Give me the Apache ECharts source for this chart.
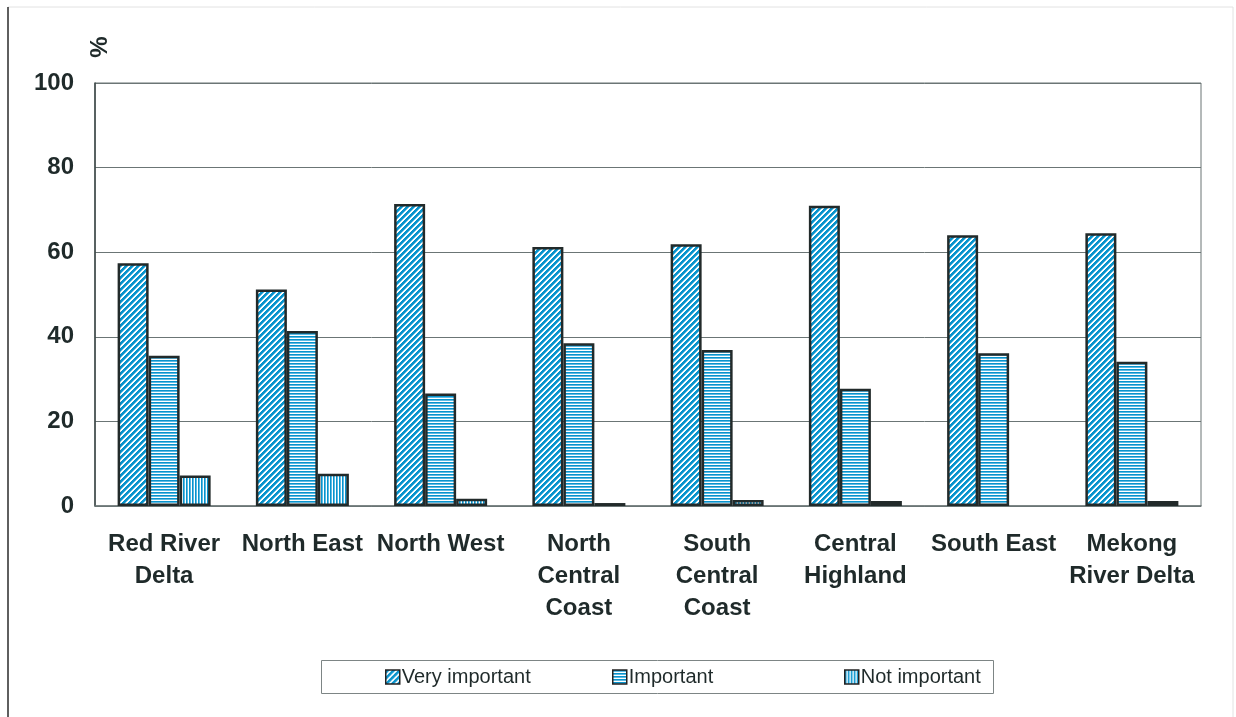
<!DOCTYPE html>
<html>
<head>
<meta charset="utf-8">
<script src="https://cdn.jsdelivr.net/npm/echarts@6/dist/echarts.min.js"></script>
<style>
  html, body { margin: 0; padding: 0; background: #ffffff; }
  #chart { width: 1236px; height: 717px; }
</style>
</head>
<body>
<div id="chart"></div>
<script>
// Regions and shares (%) of each importance rating
const regions = ['Red River\nDelta', 'North East', 'North West', 'North\nCentral\nCoast',
  'South\nCentral\nCoast', 'Central\nHighland', 'South East', 'Mekong\nRiver Delta'];
const veryImportant = [57.4, 51.2, 71.4, 61.2, 61.9, 71.0, 64.0, 64.5];
const important     = [35.5, 41.4, 26.6, 38.5, 36.9, 27.7, 36.1, 34.1];
const notImportant  = [7.2, 7.6, 1.7, 0.7, 1.4, 1.2, null, 1.2];
const seriesNames = ['Very important', 'Important', 'Not important'];
const yTicks = { min: 0, max: 100, step: 20 };

const BLUE = '#0893cc';
const LIGHT = '#5dbbe4';

// Hatched fills drawn into small tiles
function tile(w, h, painter) {
  const c = document.createElement('canvas');
  c.width = w; c.height = h;
  const ctx = c.getContext('2d');
  ctx.fillStyle = '#ffffff';
  ctx.fillRect(0, 0, w, h);
  painter(ctx);
  return c;
}
const diagonal = tile(6, 6, ctx => {
  for (let x = 0; x < 6; x++) for (let y = 0; y < 6; y++) {
    const k = (x + y) % 6;
    if (k < 3) { ctx.fillStyle = BLUE; ctx.fillRect(x, y, 1, 1); }
    else if (k === 3) { ctx.fillStyle = LIGHT; ctx.fillRect(x, y, 1, 1); }
  }
});
const horizontal = tile(4, 3, ctx => {
  ctx.fillStyle = BLUE; ctx.fillRect(0, 0, 4, 1);
  ctx.fillStyle = LIGHT; ctx.fillRect(0, 1, 4, 1);
});
const vertical = tile(3, 4, ctx => {
  ctx.fillStyle = BLUE; ctx.fillRect(0, 0, 1, 4);
  ctx.fillStyle = LIGHT; ctx.fillRect(1, 0, 1, 4);
});
const fills = [diagonal, horizontal, vertical].map(img => ({ image: img, repeat: 'repeat' }));
const values = [veryImportant, important, notImportant];

const FONT = '"Liberation Sans", Arial, sans-serif';
const TEXT = '#1f2a2a';

const chart = echarts.init(document.getElementById('chart'), null, { renderer: 'canvas' });

const legendLefts = [385, 612, 844];

chart.setOption({
  animation: false,
  backgroundColor: '#ffffff',
  grid: {
    left: 95, right: 35, top: 83, bottom: 211,
    show: true, borderColor: '#6b7575', borderWidth: 1, backgroundColor: 'transparent'
  },
  xAxis: {
    type: 'category',
    data: regions,
    axisLine: { show: true, lineStyle: { color: '#6b7575', width: 1.5 } },
    axisTick: { show: false },
    axisLabel: {
      interval: 0, margin: 22, color: TEXT,
      fontFamily: FONT, fontWeight: 'bold', fontSize: 24, lineHeight: 32
    }
  },
  yAxis: {
    type: 'value',
    min: yTicks.min, max: yTicks.max, interval: yTicks.step,
    axisLine: { show: true, lineStyle: { color: '#3a4444', width: 1.5 } },
    axisTick: { show: false },
    splitLine: { lineStyle: { color: '#6b7575', width: 1 } },
    axisLabel: {
      margin: 21, color: TEXT,
      fontFamily: FONT, fontWeight: 'bold', fontSize: 24
    }
  },
  legend: legendLefts.map((left, i) => ({
    data: [seriesNames[i]],
    left: left, top: 667,
    padding: 0,
    itemWidth: 14, itemHeight: 14, itemGap: 0,
    selectedMode: false,
    icon: 'rect',
    itemStyle: { borderColor: '#222222', borderWidth: 1.5 },
    textStyle: { color: TEXT, fontFamily: FONT, fontSize: 20, padding: [0, 0, 0, -3] }
  })),
  series: values.map((arr, i) => ({
    name: seriesNames[i],
    type: 'bar',
    data: arr,
    barWidth: 31,
    barGap: '0%',
    itemStyle: { color: fills[i], borderColor: '#222a2a', borderWidth: 2.5 }
  })),
  graphic: [
    // outer frame
    { type: 'line', shape: { x1: 8, y1: 7, x2: 1233, y2: 7 }, style: { stroke: '#e2e2e2', lineWidth: 1 } },
    { type: 'line', shape: { x1: 1233, y1: 7, x2: 1233, y2: 717 }, style: { stroke: '#e2e2e2', lineWidth: 1 } },
    { type: 'line', shape: { x1: 8, y1: 7, x2: 8, y2: 717 }, style: { stroke: '#2a2a2a', lineWidth: 1.5 } },
    // legend box
    { type: 'rect', shape: { x: 321.5, y: 660.5, width: 672, height: 33 },
      style: { fill: 'none', stroke: '#7d8585', lineWidth: 1 }, z: 1 },
    // unit label
    { type: 'text', x: 100, y: 47, rotation: Math.PI / 2,
      style: { text: '%', font: 'bold 24px ' + FONT, fill: TEXT, align: 'center', verticalAlign: 'middle' } }
  ]
});
</script>
</body>
</html>
